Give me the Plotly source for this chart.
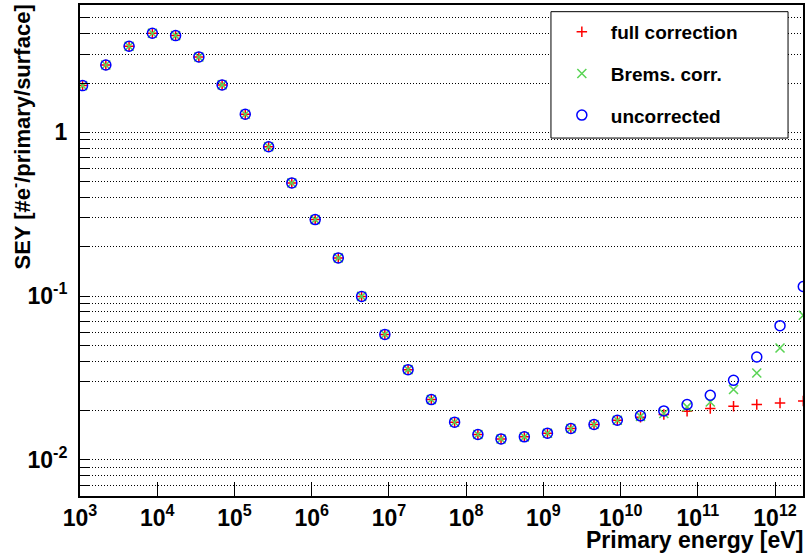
import math
import plotly.graph_objects as go

# Primary energies (eV), one point per factor-of-two energy bin
energy = [1.08e3, 2.16e3, 4.32e3, 8.65e3, 1.73e4, 3.46e4, 6.92e4, 1.38e5,
          2.77e5, 5.53e5, 1.11e6, 2.21e6, 4.43e6, 8.86e6, 1.77e7, 3.54e7,
          7.09e7, 1.42e8, 2.83e8, 5.67e8, 1.13e9, 2.27e9, 4.53e9, 9.07e9,
          1.81e10, 3.63e10, 7.26e10, 1.45e11, 2.90e11, 5.80e11, 1.16e12, 2.32e12]

# Secondary electron yield per primary per surface
sey_uncorrected = [1.93, 2.58, 3.36, 4.03, 3.90, 2.89, 1.95, 1.29,
                   0.817, 0.491, 0.293, 0.171, 0.0995, 0.0583, 0.0355, 0.0233,
                   0.01695, 0.01426, 0.01339, 0.01379, 0.01452, 0.01552, 0.0164, 0.01742,
                   0.01853, 0.01986, 0.02173, 0.02477, 0.03055, 0.04238, 0.06592, 0.1143]
sey_brems = [1.93, 2.58, 3.36, 4.03, 3.90, 2.89, 1.95, 1.29,
             0.817, 0.491, 0.293, 0.171, 0.0995, 0.0583, 0.0355, 0.0233,
             0.01695, 0.01426, 0.01339, 0.01379, 0.01452, 0.01552, 0.0164, 0.01742,
             0.0184, 0.01915, 0.02102, 0.02254, 0.02684, 0.03388, 0.04808, 0.0762]
sey_full = [1.93, 2.58, 3.36, 4.03, 3.90, 2.89, 1.95, 1.29,
            0.817, 0.491, 0.293, 0.171, 0.0995, 0.0583, 0.0355, 0.0233,
            0.01695, 0.01426, 0.01339, 0.01379, 0.01452, 0.01552, 0.0164, 0.01742,
            0.0182, 0.0189, 0.0198, 0.02055, 0.02123, 0.02173, 0.02223, 0.02286]

series_names = ["full correction", "Brems. corr.", "uncorrected"]

# Axis ticks
x_major = [1e3, 1e4, 1e5, 1e6, 1e7, 1e8, 1e9, 1e10, 1e11, 1e12]
x_major_text = ["10<sup>3</sup>", "10<sup>4</sup>", "10<sup>5</sup>", "10<sup>6</sup>",
                "10<sup>7</sup>", "10<sup>8</sup>", "10<sup>9</sup>", "10<sup>10</sup>",
                "10<sup>11</sup>", "10<sup>12</sup>"]
y_major = [0.01, 0.1, 1]
y_major_text = ["10<sup>-2</sup>", "10<sup>-1</sup>", "1"]

X_RANGE = [3.0, 12.362]
Y_RANGE = [math.log10(0.006), math.log10(6.0)]

# Minor ticks: 2..9 within each decade (x), 1..9 within each decade (y, with grid)
x_minor = [m * 10 ** e for e in range(3, 13) for m in range(2, 10)
           if m * 10 ** e <= 10 ** X_RANGE[1]]
y_minor = [m * 10.0 ** e for e in range(-3, 1) for m in range(1, 10)
           if 0.006 - 1e-12 <= m * 10.0 ** e <= 6.0 + 1e-9]
y_minor_text = []
for v in y_minor:
    lab = ""
    for t, s in zip(y_major, y_major_text):
        if abs(v - t) < 1e-12:
            lab = s
    y_minor_text.append(lab)

FONT = "Liberation Sans, Arial, Helvetica, sans-serif"
RED = "rgb(255,0,0)"
GREEN = "rgb(89,212,84)"
BLUE = "rgb(0,0,255)"

fig = go.Figure()

fig.add_trace(go.Scatter(
    x=energy, y=sey_full, mode="markers", name=series_names[0], legendgroup="a",
    marker=dict(symbol="cross-thin-open", size=7.5, color=RED, line=dict(color=RED, width=1.5)),
))
fig.add_trace(go.Scatter(
    x=energy, y=sey_brems, mode="markers", name=series_names[1], legendgroup="b",
    marker=dict(symbol="x-thin-open", size=9, color=GREEN, line=dict(color=GREEN, width=1.5)),
))
fig.add_trace(go.Scatter(
    x=energy, y=sey_uncorrected, mode="markers", name=series_names[2], legendgroup="c",
    marker=dict(symbol="circle-open", size=10, color=BLUE, line=dict(color=BLUE, width=1.5)),
))

axis_line = dict(showline=True, linecolor="black", linewidth=2, mirror=True)
tick_font = dict(family=FONT, size=23, weight="bold", color="black")

fig.update_layout(
    width=808, height=555,
    margin=dict(l=80, r=3, t=4, b=59),
    paper_bgcolor="white", plot_bgcolor="white",
    font=dict(family=FONT, color="black"),
    xaxis=dict(
        type="log", range=X_RANGE, tickvals=x_major, ticktext=x_major_text,
        ticks="inside", ticklen=14, tickwidth=1, tickcolor="black",
        tickfont=tick_font,
        showgrid=False, zeroline=False, ticklabelstandoff=0, **axis_line,
    ),
    xaxis2=dict(
        type="log", range=X_RANGE, overlaying="x", anchor="y", side="bottom",
        tickvals=x_minor, ticks="inside", ticklen=7, tickwidth=1, tickcolor="black",
        showticklabels=False, showgrid=False, zeroline=False, showline=False,
    ),
    yaxis=dict(
        type="log", range=Y_RANGE, tickvals=y_minor, ticktext=y_minor_text,
        ticks="inside", ticklen=9, tickwidth=1, tickcolor="black",
        tickfont=tick_font,
        showgrid=True, gridcolor="black", gridwidth=1, griddash="1px,2px",
        zeroline=False, ticklabelstandoff=6, **axis_line,
    ),
    yaxis2=dict(
        type="log", range=Y_RANGE, overlaying="y", anchor="x", side="left",
        tickvals=y_major, ticks="inside", ticklen=20, tickwidth=1, tickcolor="black",
        showticklabels=False, showgrid=False, zeroline=False, showline=False,
    ),
    legend=dict(
        x=0.654, y=0.984, xanchor="left", yanchor="top",
        bgcolor="rgba(0,0,0,0)", borderwidth=0, itemwidth=48,
        font=dict(family=FONT, size=19, weight="bold", color="black"),
        tracegroupgap=14, itemsizing="trace",
    ),
    showlegend=True,
)

# Legend frame
fig.add_shape(type="rect", xref="paper", yref="paper",
              x0=0.6514, x1=0.9793, y0=0.729, y1=0.9864,
              line=dict(color="black", width=1), fillcolor="white", layer="above")

# Axis titles
fig.add_annotation(
    text="Primary energy [eV]", xref="paper", yref="paper",
    x=1.0, y=-0.09, xanchor="right", yanchor="middle", xshift=2, showarrow=False,
    font=dict(family=FONT, size=23, weight="bold", color="black"),
)
fig.add_annotation(
    text="SEY [#e<sup>-</sup>/primary/surface]", xref="paper", yref="paper",
    x=-0.083, y=1.0, xanchor="center", yanchor="top", textangle=-90, yshift=3,
    showarrow=False,
    font=dict(family=FONT, size=22, weight="bold", color="black"),
)

fig.write_html("out.html")
